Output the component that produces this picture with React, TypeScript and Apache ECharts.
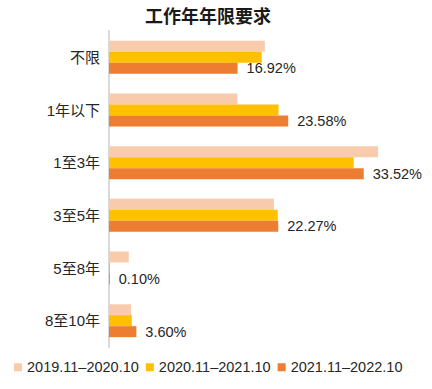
import React, { useEffect, useRef } from "react";
import * as echarts from "echarts";

const categories = ["不限", "1年以下", "1至3年", "3至5年", "5至8年", "8至10年"];
const seriesNames = ["2019.11–2020.10", "2020.11–2021.10", "2021.11–2022.10"];
const values2019 = [20.5, 16.9, 35.4, 21.7, 2.6, 2.9];
const values2020 = [20.1, 22.3, 32.2, 22.2, 0.12, 3.0];
const values2021 = [16.92, 23.58, 33.52, 22.27, 0.1, 3.6];
const colors = ["#F8CBAD", "#FFC000", "#ED7D31"];

const FONT = "'Liberation Sans', 'Noto Sans CJK SC', sans-serif";

export default function App() {
  const ref = useRef<HTMLDivElement>(null);
  useEffect(() => {
    if (!ref.current) return;
    const chart = echarts.init(ref.current, null, { renderer: "svg" });
    const mk = (i: number, data: number[], label: boolean) => ({
      name: seriesNames[i],
      type: "bar",
      data,
      barWidth: 11,
      barGap: "0%",
      itemStyle: { color: colors[i] },
      label: label
        ? {
            show: true,
            position: "right",
            distance: 9,
            formatter: (p: any) => p.value.toFixed(2) + "%",
            color: "#262626",
            fontSize: 14.5,
            fontFamily: FONT,
          }
        : { show: false },
    });
    chart.setOption({
      animation: false,
      textStyle: { fontFamily: FONT },
      title: {
        text: "工作年年限要求",
        left: 140,
        top: 3,
        textStyle: { fontSize: 18, fontWeight: "bold", color: "#1a1a1a", fontFamily: FONT },
      },
      legend: {
        left: 14,
        top: 360,
        padding: 0,
        itemWidth: 8,
        itemHeight: 8,
        itemGap: 7,
        icon: "rect",
        data: seriesNames,
        textStyle: { fontSize: 14.5, color: "#262626", fontFamily: FONT },
      },
      grid: { left: 109, top: 31, bottom: 42, right: 19, containLabel: false },
      xAxis: {
        type: "value",
        min: 0,
        max: 40,
        show: false,
      },
      yAxis: {
        type: "category",
        inverse: true,
        data: categories,
        axisLine: { show: true, lineStyle: { color: "#D9D9D9", width: 2 } },
        axisTick: { show: false },
        axisLabel: { margin: 9, fontSize: 15, color: "#262626", fontFamily: FONT },
      },
      series: [mk(0, values2019, false), mk(1, values2020, false), mk(2, values2021, true)],
    });
    return () => chart.dispose();
  }, []);
  return (
    <div
      ref={ref}
      style={{ position: "fixed", left: 0, top: 0, width: 432, height: 389, background: "#fff" }}
    />
  );
}
